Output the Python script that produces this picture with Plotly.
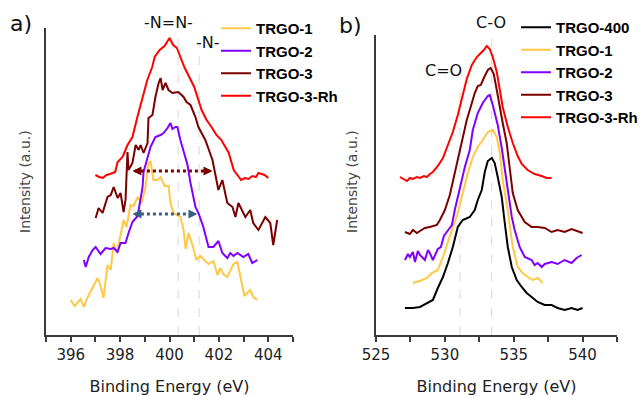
import plotly.graph_objects as go

# ---------------- Panel a) N 1s ----------------
a_be_trgo1 = [396.0, 396.16, 396.4, 396.53, 396.69, 396.89, 397.09, 397.21, 397.33, 397.49, 397.62, 397.74, 397.86,
              398.02, 398.14, 398.26, 398.42, 398.55, 398.71, 398.87, 399.03, 399.15, 399.23, 399.35, 399.52, 399.64,
              399.8, 399.96, 400.04, 400.16, 400.32, 400.44, 400.57, 400.65, 400.77, 400.93, 401.09, 401.25, 401.41,
              401.58, 401.78, 401.94, 402.06, 402.18, 402.34, 402.46, 402.59, 402.75, 402.91, 403.03, 403.15, 403.27,
              403.39, 403.56]
a_int_trgo1 = [35, 29, 36, 28, 38, 48, 57, 49, 37, 70, 65, 92, 82, 100, 115, 108, 130, 129, 138, 132, 148, 172, 174,
               155, 155, 158, 149, 149, 132, 122, 120, 118, 105, 86, 102, 90, 75, 79, 75, 71, 74, 60, 67, 61, 58, 65,
               71, 73, 52, 39, 42, 45, 38, 35]

a_be_trgo2 = [396.53, 396.61, 396.73, 396.89, 397.01, 397.21, 397.41, 397.62, 397.74, 397.9, 398.02, 398.22, 398.34,
              398.5, 398.71, 398.83, 398.91, 398.95, 399.11, 399.23, 399.43, 399.64, 399.76, 399.92, 400.04, 400.12,
              400.24, 400.32, 400.44, 400.57, 400.73, 400.85, 401.05, 401.17, 401.37, 401.58, 401.78, 401.98, 402.14,
              402.34, 402.46, 402.59, 402.75, 402.99, 403.19, 403.35, 403.56]
a_int_trgo2 = [75, 68, 78, 85, 88, 81, 87, 86, 87, 83, 92, 92, 102, 113, 119, 135, 148, 163, 178, 188, 198, 200, 202,
               207, 212, 206, 208, 208, 195, 183, 170, 152, 128, 122, 108, 88, 88, 94, 82, 77, 82, 79, 82, 78, 81,
               72, 75]

a_be_trgo3 = [397.01, 397.13, 397.29, 397.49, 397.62, 397.74, 397.9, 398.02, 398.14, 398.22, 398.3, 398.34, 398.5,
              398.63, 398.75, 398.83, 398.95, 399.11, 399.15, 399.31, 399.43, 399.56, 399.64, 399.72, 399.84, 399.96,
              400.12, 400.36, 400.57, 400.69, 400.85, 401.05, 401.17, 401.45, 401.74, 401.98, 402.14, 402.34, 402.55,
              402.67, 402.79, 403.07, 403.27, 403.39, 403.6, 403.88, 404.08, 404.2, 404.36]
a_int_trgo3 = [117, 127, 122, 138, 140, 148, 137, 142, 123, 135, 183, 165, 172, 190, 185, 190, 182, 192, 217, 220,
               238, 252, 257, 245, 252, 245, 242, 243, 238, 233, 230, 218, 208, 195, 175, 145, 155, 132, 128, 118,
               132, 118, 125, 112, 105, 118, 112, 90, 115]

a_be_trgo3rh = [397.0, 397.15, 397.3, 397.45, 397.6, 397.8, 397.9, 398.1, 398.3, 398.5, 398.7, 398.9, 399.1, 399.3,
                399.4, 399.6, 399.8, 399.9, 400.0, 400.15, 400.3, 400.6, 400.8, 401.0, 401.3, 401.5, 401.7, 401.9,
                402.1, 402.25, 402.4, 402.6, 402.75, 402.9, 403.05, 403.2, 403.35, 403.5, 403.6, 403.7, 403.85, 404.0]
a_int_trgo3rh = [160, 158, 157, 160, 161, 163, 173, 178, 190, 198, 218, 237, 255, 268, 278, 285, 289, 293, 297, 290,
                 287, 268, 258, 248, 225, 215, 208, 200, 195, 188, 182, 165, 160, 155, 157, 156, 159, 158, 162, 161,
                 160, 157]

# ---------------- Panel b) O 1s ----------------
b_be_trgo400 = [527.1, 527.68, 528.19, 528.77, 529.13, 529.49, 529.86, 530.22, 530.58, 530.94, 531.3, 531.81, 532.17,
                532.39, 532.68, 532.9, 533.12, 533.41, 533.62, 533.84, 534.13, 534.35, 534.57, 534.86, 535.22, 535.58,
                535.94, 536.3, 536.74, 537.25, 537.75, 538.19, 538.7, 539.2, 539.64, 540.0]
b_int_trgo400 = [27, 27, 28, 32, 35, 47, 58, 72, 88, 108, 115, 118, 125, 135, 145, 163, 174, 177, 172, 158, 138, 112,
                 88, 68, 55, 48, 42, 38, 33, 30, 30, 27, 25, 27, 25, 27]

b_be_trgo1 = [527.68, 528.19, 528.7, 529.06, 529.49, 529.86, 530.22, 530.58, 530.94, 531.3, 531.67, 532.03, 532.39,
              532.75, 533.12, 533.48, 533.77, 533.99, 534.2, 534.49, 534.71, 534.93, 535.29, 535.65, 536.01, 536.38,
              536.74, 537.1]
b_int_trgo1 = [52, 54, 57, 62, 65, 78, 93, 108, 122, 142, 162, 178, 188, 195, 203, 205, 198, 182, 155, 132, 112, 88,
               68, 62, 58, 55, 57, 52]

b_be_trgo2 = [527.1, 527.32, 527.46, 527.68, 527.83, 528.04, 528.19, 528.41, 528.55, 528.77, 528.91, 529.13, 529.28,
              529.49, 529.71, 529.93, 530.14, 530.51, 530.72, 530.94, 531.23, 531.45, 531.81, 532.03, 532.39, 532.75,
              533.12, 533.26, 533.48, 533.62, 533.84, 534.13, 534.35, 534.57, 534.86, 535.07, 535.43, 535.8, 536.3,
              536.52, 536.74, 537.03, 537.25, 537.75, 538.19, 538.7, 539.2, 539.57, 539.93]
b_int_trgo2 = [75, 81, 78, 83, 73, 84, 80, 77, 75, 85, 82, 75, 79, 86, 88, 99, 103, 110, 125, 138, 155, 168, 185, 205,
               222, 232, 239, 240, 230, 222, 210, 187, 165, 142, 118, 105, 88, 78, 75, 70, 72, 68, 71, 73, 71, 75, 72,
               77, 80]

b_be_trgo3 = [527.1, 527.46, 527.68, 527.97, 528.19, 528.55, 528.91, 529.42, 529.64, 530.0, 530.36, 530.72, 531.09,
              531.3, 531.59, 531.96, 532.17, 532.39, 532.61, 532.83, 533.12, 533.33, 533.55, 533.77, 533.99, 534.2,
              534.49, 534.71, 534.93, 535.29, 535.8, 536.3, 536.74, 537.25, 537.75, 538.19, 538.7, 539.2, 539.64, 540.0]
b_int_trgo3 = [103, 101, 105, 102, 104, 107, 108, 110, 115, 125, 140, 162, 185, 198, 215, 232, 242, 249, 250, 257, 265,
               267, 261, 245, 230, 212, 192, 168, 142, 125, 113, 108, 108, 107, 103, 105, 103, 106, 104, 102]

b_be_trgo3rh = [526.74, 527.03, 527.25, 527.46, 527.68, 527.97, 528.19, 528.48, 528.7, 528.91, 529.13, 529.49, 529.86,
                530.22, 530.58, 530.94, 531.23, 531.59, 531.96, 532.32, 532.61, 532.83, 533.04, 533.26, 533.48, 533.77,
                533.99, 534.2, 534.57, 534.93, 535.29, 535.58, 536.01, 536.52, 537.03, 537.39, 537.75]
b_int_trgo3rh = [158, 156, 154, 157, 156, 158, 157, 159, 158, 161, 163, 169, 177, 190, 203, 220, 237, 256, 270, 278, 282,
                 285, 289, 286, 278, 263, 245, 228, 208, 192, 179, 171, 165, 161, 159, 157, 157]

# FWHM arrows (panel a): [start, end] binding energies and intensity level
fwhm_trgo3_be = [398.5, 401.74]
fwhm_trgo3_int = 164
fwhm_trgo2_be = [398.5, 401.13]
fwhm_trgo2_int = 121

# reference lines (binding energy, top intensity)
a_ref_lines = [(400.35, 297), (401.2, 290)]
b_ref_lines = [(531.1, 250), (533.4, 300)]

C_Y = "#FFC845"
C_P = "#8000FF"
C_DR = "#7B0000"
C_R = "#FF0000"
C_K = "#000000"
C_BLUE = "#3A5F80"

fig = go.Figure()

LW = 2
def add(x, y, name, color, xa, ya, legend):
    fig.add_trace(go.Scatter(x=x, y=y, mode="lines", name=name, line=dict(color=color, width=LW),
                             xaxis=xa, yaxis=ya, legend=legend))

add(a_be_trgo1, a_int_trgo1, "TRGO-1", C_Y, "x", "y", "legend")
add(a_be_trgo2, a_int_trgo2, "TRGO-2", C_P, "x", "y", "legend")
add(a_be_trgo3, a_int_trgo3, "TRGO-3", C_DR, "x", "y", "legend")
add(a_be_trgo3rh, a_int_trgo3rh, "TRGO-3-Rh", C_R, "x", "y", "legend")

add(b_be_trgo400, b_int_trgo400, "TRGO-400", C_K, "x2", "y2", "legend2")
add(b_be_trgo1, b_int_trgo1, "TRGO-1", C_Y, "x2", "y2", "legend2")
add(b_be_trgo2, b_int_trgo2, "TRGO-2", C_P, "x2", "y2", "legend2")
add(b_be_trgo3, b_int_trgo3, "TRGO-3", C_DR, "x2", "y2", "legend2")
add(b_be_trgo3rh, b_int_trgo3rh, "TRGO-3-Rh", C_R, "x2", "y2", "legend2")

# dotted FWHM lines
for be, lvl, col in [(fwhm_trgo3_be, fwhm_trgo3_int, C_DR), (fwhm_trgo2_be, fwhm_trgo2_int, C_BLUE)]:
    fig.add_trace(go.Scatter(x=[be[0] + 0.1, be[1] - 0.1], y=[lvl, lvl], mode="lines", showlegend=False,
                             line=dict(color=col, width=3, dash="dot"), xaxis="x", yaxis="y", hoverinfo="skip"))

shapes = []
for xv, top in a_ref_lines:
    shapes.append(dict(type="line", xref="x", yref="y", x0=xv, x1=xv, y0=0, y1=top,
                       line=dict(color="#D8D8D8", width=1, dash="dash"), layer="below"))
for xv, top in b_ref_lines:
    shapes.append(dict(type="line", xref="x2", yref="y2", x0=xv, x1=xv, y0=0, y1=top,
                       line=dict(color="#D8D8D8", width=1, dash="dash"), layer="below"))

FONT = "DejaVu Sans, Liberation Sans, sans-serif"
LEGFONT = "Liberation Sans, Arial, sans-serif"
ann = []
# arrowheads
for be, lvl, col in [(fwhm_trgo3_be, fwhm_trgo3_int, C_DR), (fwhm_trgo2_be, fwhm_trgo2_int, C_BLUE)]:
    ann.append(dict(x=be[0], y=lvl, ax=be[0] + 0.3, ay=lvl, xref="x", yref="y", axref="x", ayref="y",
                    text="", showarrow=True, arrowhead=2, arrowsize=0.9, arrowwidth=2, arrowcolor=col))
    ann.append(dict(x=be[1], y=lvl, ax=be[1] - 0.3, ay=lvl, xref="x", yref="y", axref="x", ayref="y",
                    text="", showarrow=True, arrowhead=2, arrowsize=0.9, arrowwidth=2, arrowcolor=col))


def txt(px, py, text, size=16, color="#111111", angle=0):
    return dict(x=px / 643, y=1 - py / 396, xref="paper", yref="paper", text=text, showarrow=False,
                xanchor="center", yanchor="middle", textangle=angle,
                font=dict(family=FONT, size=size, color=color))


ann += [
    txt(168, 23, "-N=N-"),
    txt(208, 42, "-N-"),
    txt(491, 22, "C-O"),
    txt(443, 70, "C=O"),
    txt(21, 24, "a)", size=22),
    txt(350, 26, "b)", size=22),
    txt(25, 182, "Intensity (a.u.)", size=14, color="#444444", angle=-90),
    txt(352, 182, "Intensity (a.u.)", size=14, color="#444444", angle=-90),
]

axcol = "#3A3A3A"
xcommon = dict(showgrid=False, zeroline=False, showline=True, linecolor=axcol, linewidth=2, ticks="outside",
               ticklen=5, tickwidth=1.5, tickcolor=axcol, automargin=False,
               tickfont=dict(family=FONT, size=15, color="#222222"),
               title=dict(text="Binding Energy (eV)", font=dict(family=FONT, size=16, color="#222222"), standoff=18))
ycommon = dict(showgrid=False, zeroline=False, showline=True, linecolor=axcol, linewidth=2, ticks="",
               showticklabels=False, automargin=False)

legfont = dict(family=LEGFONT, size=15, color="#000000", weight="bold")
fig.update_layout(
    width=643, height=396, margin=dict(l=0, r=0, t=0, b=0, autoexpand=False),
    paper_bgcolor="white", plot_bgcolor="white", showlegend=True,
    xaxis=dict(xcommon, domain=[46 / 643, 293 / 643], range=[395, 405], tick0=396, dtick=2,
               minor=dict(dtick=1, tick0=395, ticks="outside", ticklen=5, tickwidth=1.5, tickcolor=axcol),
               anchor="y"),
    yaxis=dict(ycommon, domain=[61 / 396, 368 / 396], range=[0, 307], anchor="x"),
    xaxis2=dict(xcommon, domain=[376 / 643, 617 / 643], range=[525, 542.5], tick0=525, dtick=5,
                minor=dict(dtick=2.5, tick0=525, ticks="outside", ticklen=5, tickwidth=1.5, tickcolor=axcol),
                anchor="y2"),
    yaxis2=dict(ycommon, domain=[61 / 396, 361 / 396], range=[0, 300], anchor="x2"),
    legend=dict(x=216 / 643, y=1 - 12 / 396, xanchor="left", yanchor="top", bgcolor="rgba(0,0,0,0)",
                font=legfont, tracegroupgap=0, itemwidth=30),
    legend2=dict(x=516 / 643, y=1 - 11 / 396, xanchor="left", yanchor="top", bgcolor="rgba(0,0,0,0)",
                 font=legfont, tracegroupgap=0, itemwidth=30),
    shapes=shapes, annotations=ann,
)

fig.write_html("out.html")
